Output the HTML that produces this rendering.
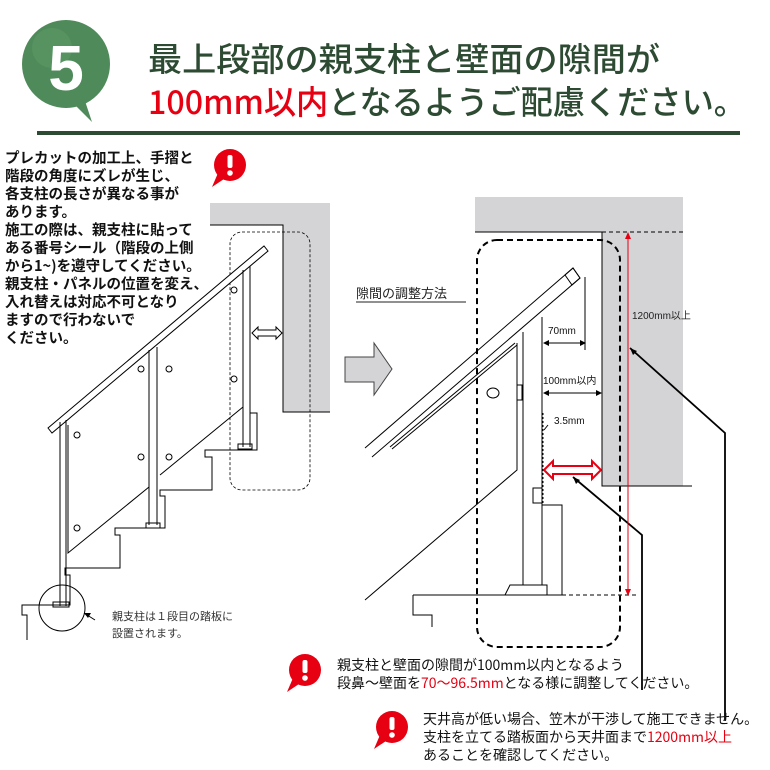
<!DOCTYPE html>
<html><head><meta charset="utf-8"><style>
body{margin:0;background:#fff;}
svg{display:block;font-family:"Liberation Sans","Noto Sans CJK JP",sans-serif;}
</style></head><body>
<svg width="770" height="770" viewBox="0 0 770 770" xmlns="http://www.w3.org/2000/svg">
<defs>
<g id="warn"><path d="M-6 14 L-18 22 L-12 8 Z" fill="#e60012"/><circle r="16" fill="#e60012"/><rect x="-2.5" y="-10" width="5" height="13" rx="2" fill="#fff"/><circle cy="8" r="2.8" fill="#fff"/></g>
</defs>
<!-- header -->
<path d="M70 100 L92 122 L82 92 Z" fill="#4f8a5a"/>
<circle cx="66" cy="64" r="44" fill="#4f8a5a"/>
<circle cx="52" cy="48" r="20" fill="#5d9966" opacity="0.6"/>
<text x="66" y="90" font-size="64" font-weight="bold" fill="#fff" text-anchor="middle">5</text>
<text x="148" y="71" font-size="33" fill="#2d4a32" font-family="Noto Sans CJK JP,sans-serif" font-weight="500" textLength="512" lengthAdjust="spacingAndGlyphs">最上段部の親支柱と壁面の隙間が</text>
<text x="148" y="114" font-size="33" fill="#2d4a32" font-family="Noto Sans CJK JP,sans-serif" font-weight="500" textLength="598" lengthAdjust="spacingAndGlyphs"><tspan fill="#e60012">100mm以内</tspan>となるようご配慮ください。</text>
<rect x="37" y="131" width="703" height="4" fill="#2d4a32"/>

<!-- left text -->
<g font-size="14.5" fill="#111" font-weight="bold" font-family="Noto Sans CJK JP,sans-serif">
<text x="5" y="163">プレカットの加工上、手摺と</text>
<text x="5" y="181">階段の角度にズレが生じ、</text>
<text x="5" y="199">各支柱の長さが異なる事が</text>
<text x="5" y="217">あります。</text>
<text x="5" y="235">施工の際は、親支柱に貼って</text>
<text x="5" y="253">ある番号シール（階段の上側</text>
<text x="5" y="271">から1~)を遵守してください。</text>
<text x="5" y="289">親支柱・パネルの位置を変え、</text>
<text x="5" y="307">入れ替えは対応不可となり</text>
<text x="5" y="325">ますので行わないで</text>
<text x="5" y="343">ください。</text>
</g>
<use href="#warn" x="230" y="165"/>

<!-- left diagram -->
<path d="M210 203 H330 V412 H283 V225 H210 Z" fill="#d4d4d6"/>
<path d="M210 225 H283 V412 H330" fill="none" stroke="#000" stroke-width="1"/>
<rect x="230" y="232" width="80" height="258" rx="12" fill="none" stroke="#000" stroke-dasharray="3,2" stroke-width="0.8"/>
<g fill="none" stroke="#000" stroke-width="1">
<path d="M48 428 L264 246 L268 251 L52 433 Z" fill="#fff"/>
<path d="M60 422 V606 M66 420 V606"/>
<path d="M149 350 V525 M157 347 V525"/>
<path d="M243 270 V447 M250 266 V447"/>
<path d="M68 425 V553 L149 487 M160 475 L243 407"/>
<path d="M250 413 H257 V450 H205 V457 H212 V490 H160 V496 H165 V528 H115 V535 H120 V568 H65 V575 H70 V605 H22 V615 H27 V640"/>
<rect x="238" y="444" width="14" height="5"/><rect x="146" y="523" width="14" height="5"/><rect x="53" y="602" width="16" height="5"/>
<circle cx="77" cy="435" r="3"/><circle cx="77" cy="528" r="3"/><circle cx="141" cy="369" r="3"/><circle cx="169" cy="369" r="3"/><circle cx="141" cy="457" r="3"/><circle cx="169" cy="457" r="3"/><circle cx="234" cy="290" r="3"/><circle cx="234" cy="379" r="3"/>
<circle cx="62" cy="608" r="23"/>
<path d="M95 620 L84 613"/>
<path d="M252 333 L258 327 V330 H276 V327 L282 333 L276 339 V336 H258 V339 Z"/>
</g>
<path d="M84 613 l7 0 l-3 5z" fill="#000"/>
<text x="112" y="620" font-size="11" fill="#333">親支柱は１段目の踏板に</text>
<text x="112" y="637" font-size="11" fill="#333">設置されます。</text>

<!-- big arrow -->
<path d="M345 357 H374 V343 L392 369 L374 395 V382 H345 Z" fill="#d4d4d6" stroke="#444" stroke-width="1"/>
<text x="356" y="298" font-size="13" fill="#222">隙間の調整方法</text>
<line x1="356" y1="302" x2="466" y2="302" stroke="#222"/>

<!-- right diagram -->
<path d="M475 197 H683 V486 H602 V232 H475 Z" fill="#d4d4d6"/>
<path d="M475 232 H602 V486 H692" fill="none" stroke="#000"/>
<path d="M602 232 H683 M562 595 H638" stroke="#000" stroke-dasharray="4,3"/>
<rect x="477" y="240" width="143" height="407" rx="20" fill="none" stroke="#000" stroke-width="2" stroke-dasharray="6,4"/>
<g fill="none" stroke="#000" stroke-width="1">
<path d="M365 448 L573 268 L580 278 L372 457"/>
<path d="M565 275 L573 268 L580 278 L572 285 Z"/>
<path d="M390 447 L515 343 M392 449 L517 345 M517 343 V470 L365 600"/>
<path d="M523 332 V585 M542 317 V585"/>
<path d="M505 595 L510 585 H547 V595"/>
<path d="M413 595 H562 V505 H542 M413 595 V615 H432 V627"/>
<rect x="533" y="488" width="9" height="15"/>
<rect x="517" y="385" width="5" height="15"/>
<ellipse cx="493" cy="393" rx="6" ry="5"/>
<path d="M585 277 V350"/>
<path d="M543 413 V503" stroke-dasharray="2,2"/>
<path d="M548 425 L544 430"/>
<path d="M573 477 L642 535 V690 M630 348 L725 433 V720" stroke-width="1.8"/>
</g>
<g stroke="#000" stroke-width="1">
<line x1="544" y1="343" x2="583" y2="343"/><line x1="544" y1="393" x2="600" y2="393"/>
</g>
<path d="M543 343 l6 -3 v6z M586 343 l-6 -3 v6z M543 393 l6 -3 v6z M602 393 l-6 -3 v6z M573 477 l3 7 l4 -4z M630 348 l3 7 l4 -4z" fill="#000"/>
<text x="548" y="334" font-size="10" fill="#111">70mm</text>
<text x="543" y="384" font-size="10" fill="#111">100mm以内</text>
<text x="554" y="424" font-size="10" fill="#111">3.5mm</text>
<path d="M544 470 L553 461 V466 H592 V461 L601 470 L592 479 V474 H553 V479 Z" fill="#fff" stroke="#e60012" stroke-width="2"/>
<line x1="628" y1="234" x2="628" y2="594" stroke="#e60012"/>
<path d="M628 232 l-3 7 h6z M628 596 l-3 -7 h6z" fill="#e60012"/>
<text x="632" y="319" font-size="10" fill="#222">1200mm以上</text>

<!-- bottom notes -->
<use href="#warn" x="305" y="670"/>
<g font-size="14" fill="#111" font-family="Noto Sans CJK JP,sans-serif">
<text x="337" y="670">親支柱と壁面の隙間が100mm以内となるよう</text>
<text x="337" y="688">段鼻～壁面を<tspan fill="#e60012">70～96.5mm</tspan>となる様に調整してください。</text>
<text x="423" y="724">天井高が低い場合、笠木が干渉して施工できません。</text>
<text x="423" y="742">支柱を立てる踏板面から天井面まで<tspan fill="#e60012">1200mm以上</tspan></text>
<text x="423" y="760">あることを確認してください。</text>
</g>
<use href="#warn" x="392" y="727"/>
</svg>
</body></html>
